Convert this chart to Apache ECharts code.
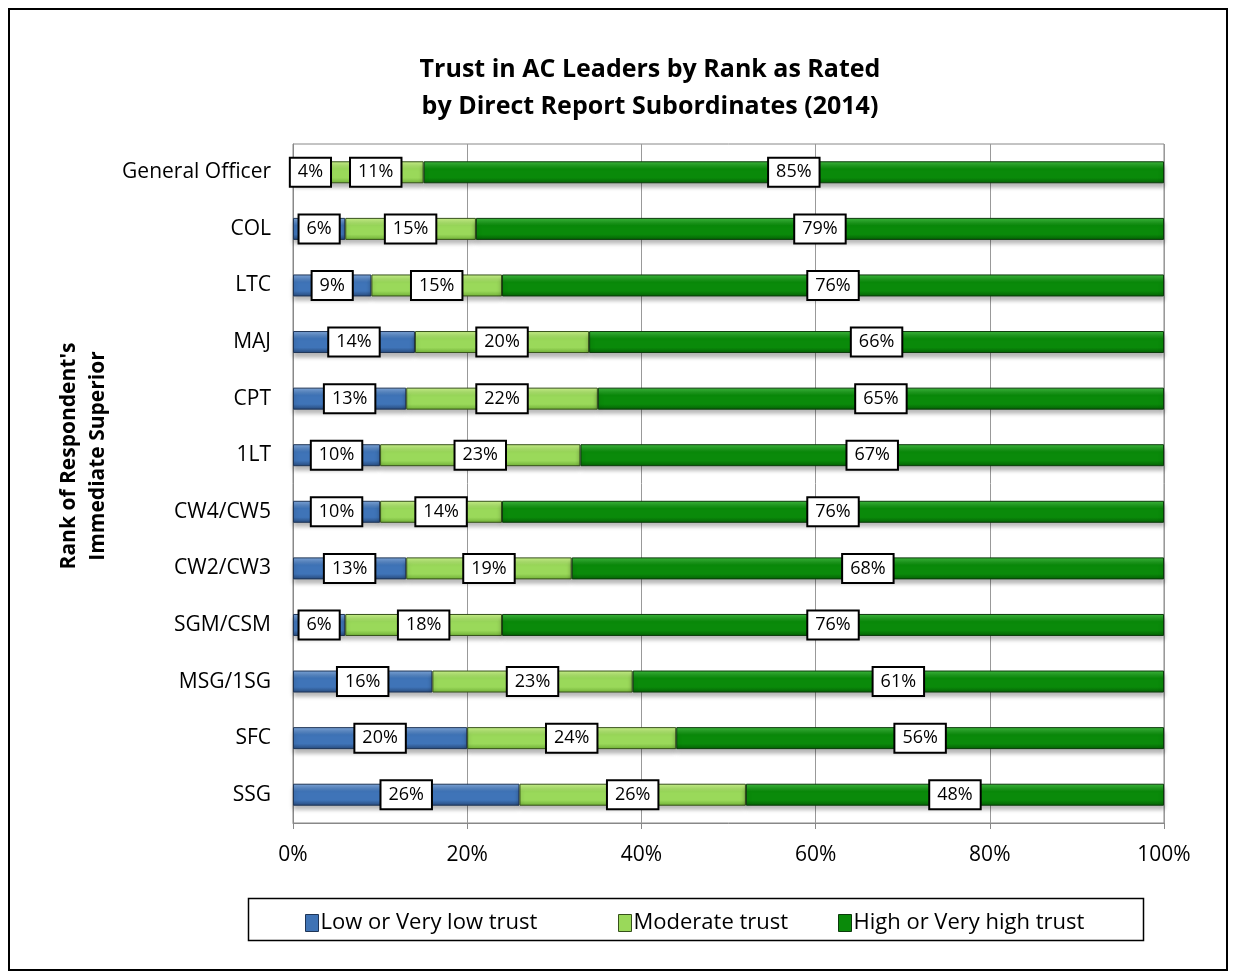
<!DOCTYPE html>
<html><head><meta charset="utf-8">
<script src="https://cdn.jsdelivr.net/npm/echarts@6/dist/echarts.min.js"></script>
<style>html,body{margin:0;padding:0;background:#fff}#c{width:1235px;height:978px}</style>
</head><body><div id="c"></div>
<script>
const categories = ['General Officer','COL','LTC','MAJ','CPT','1LT','CW4/CW5','CW2/CW3','SGM/CSM','MSG/1SG','SFC','SSG'];
const lowTrust = [4,6,9,14,13,10,10,13,6,16,20,26];
const moderateTrust = [11,15,15,20,22,23,14,19,18,23,24,26];
const highTrust = [85,79,76,66,65,67,76,68,76,61,56,48];
const xTicks = [0,20,40,60,80,100];
const seriesNames = ['Low or Very low trust','Moderate trust','High or Very high trust'];
const yAxisTitle = "Rank of Respondent's\nImmediate Superior";

const FONT = '"Open Sans", "Noto Sans", sans-serif';
function grad(light, base, dark){
  return new echarts.graphic.LinearGradient(0,0,0,1,[
    {offset:0,color:light},{offset:0.35,color:base},{offset:0.75,color:base},{offset:1,color:dark}]);
}
const styles = [
  {fill:grad('#7fa6d8','#3f74b8','#27497a'), border:'#1f3556', icon:'#3f73b5'},
  {fill:grad('#c8f08a','#9ad95a','#6fae36'), border:'#36511a', icon:'#9ad95a'},
  {fill:grad('#3fb83f','#0a8a0a','#046004'), border:'#0b3a0b', icon:'#0a8a0a'}
];
const dataSets = [lowTrust, moderateTrust, highTrust];
const series = dataSets.map((d,i)=>({
  name: seriesNames[i], type:'bar', stack:'t', barWidth:22,
  data:d,
  itemStyle:{color:styles[i].fill, borderColor:styles[i].border, borderWidth:1,
    shadowColor:'rgba(0,0,0,0.28)', shadowBlur:4, shadowOffsetY:4},
  label:{show:true, position:'inside', formatter:'{c}%', color:'#000', fontFamily:FONT, fontSize:18,
    backgroundColor:'#fff', borderColor:'#000', borderWidth:2, padding:[5,7,4,7]},
  emphasis:{disabled:true}
}));
const legendLefts = [300, 613, 833];
const legends = seriesNames.map((n,i)=>({
  data:[{name:n, itemStyle:{color:styles[i].icon, borderColor:styles[i].border, borderWidth:1}}],
  left:legendLefts[i], top:907, itemWidth:13, itemHeight:17, itemGap:4,
  textStyle:{fontFamily:FONT, fontSize:22, color:'#000', padding:[0,0,0,-3]},
  icon:'rect', selectedMode:false
}));
const chart = echarts.init(document.getElementById('c'));
chart.setOption({
  animation:false,
  title:{text:'Trust in AC Leaders by Rank as Rated\nby Direct Report Subordinates (2014)', left:645, textAlign:'center', top:46,
    textStyle:{fontFamily:FONT, fontWeight:'bold', fontSize:25, color:'#000', lineHeight:37}},
  grid:{left:293, right:71, top:144, bottom:155, show:true, borderColor:'#888', borderWidth:1},
  legend: legends,
  xAxis:{type:'value', min:0, max:100, interval:20,
    axisLabel:{formatter:v=>xTicks.includes(v)?v+'%':'', fontFamily:FONT, fontSize:21, color:'#000', margin:22},
    axisLine:{show:true, lineStyle:{color:'#888'}}, axisTick:{show:true, length:6, lineStyle:{color:'#888'}},
    splitLine:{show:true, lineStyle:{color:'#999', width:1}}},
  yAxis:{type:'category', data:categories, inverse:true,
    axisLabel:{fontFamily:FONT, fontSize:21, color:'#000', margin:22},
    axisLine:{show:true, lineStyle:{color:'#888'}}, axisTick:{show:false}},
  graphic:[
    {type:'rect', shape:{x:9,y:9,width:1218,height:961}, style:{fill:'none', stroke:'#000', lineWidth:2}, silent:true},
    {type:'rect', shape:{x:248.5,y:898.5,width:895,height:42}, style:{fill:'none', stroke:'#000', lineWidth:1.5}, silent:true, z:-1},
    {type:'text', x:84, y:456, rotation:Math.PI/2, silent:true,
      style:{text:yAxisTitle, align:'center', verticalAlign:'middle', fontFamily:FONT, fontWeight:'bold', fontSize:21, lineHeight:29, fill:'#000'}}
  ],
  series: series
});
</script></body></html>
